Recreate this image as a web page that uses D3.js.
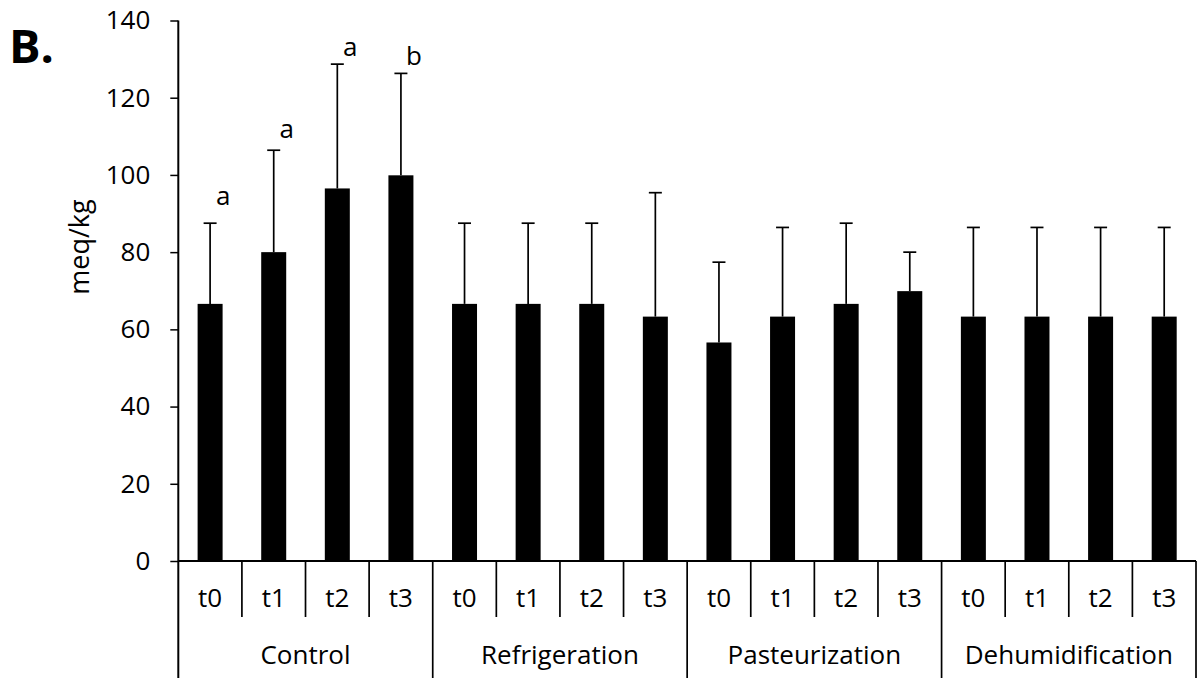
<!DOCTYPE html>
<html><head><meta charset="utf-8">
<script src="https://cdn.jsdelivr.net/npm/d3@7"></script>
<style>body{margin:0;background:#fff}svg{display:block}text{font-family:"Open Sans",sans-serif;fill:#000}</style>
</head><body>
<script>
const groups = ["Control", "Refrigeration", "Pasteurization", "Dehumidification"];
const times = ["t0", "t1", "t2", "t3"];
const controlMean = [66.6, 80.0, 96.5, 99.9];
const refrigerationMean = [66.6, 66.6, 66.6, 63.3];
const pasteurizationMean = [56.6, 63.3, 66.6, 69.9];
const dehumidificationMean = [63.3, 63.3, 63.3, 63.3];
const controlSD = [20.9, 26.4, 32.2, 26.4];
const refrigerationSD = [20.9, 20.9, 20.9, 32.1];
const pasteurizationSD = [20.8, 23.1, 20.9, 10.1];
const dehumidificationSD = [23.1, 23.1, 23.1, 23.1];
const controlLetters = ["a", "a", "a", "b"];
const controlLetterAt = [92.2, 109.6, 130.9, 128.5];
const yTicks = [0, 20, 40, 60, 80, 100, 120, 140];
const yTitle = "meq/kg";
const panelLabel = "B.";

(function () {
const means = [controlMean, refrigerationMean, pasteurizationMean, dehumidificationMean];
const sds = [controlSD, refrigerationSD, pasteurizationSD, dehumidificationSD];
const rows = [];
groups.forEach((g, gi) => times.forEach((t, ti) => rows.push({g, t, v: means[gi][ti], sd: sds[gi][ti], gi, ti})));

const W = 1199, H = 678;
const FS = 26;
const mLeft = 178.3, mRight = 1196, mTop = 20.5, mBottom = 561;
const svg = d3.select("body").append("svg").attr("width", W).attr("height", H);

const y = d3.scaleLinear().domain([0, 140]).range([mBottom, mTop]);
const x0 = d3.scaleBand().domain(groups).range([mLeft, mRight]);
const x1 = d3.scaleBand().domain(times).range([0, x0.bandwidth()]).paddingInner(0.607).paddingOuter(0.3035);
const cx = d => x0(d.g) + x1(d.t) + x1.bandwidth() / 2;

// bars
svg.append("g").selectAll("rect").data(rows).join("rect")
  .attr("x", d => x0(d.g) + x1(d.t)).attr("width", x1.bandwidth())
  .attr("y", d => y(d.v)).attr("height", d => y(0) - y(d.v)).attr("fill", "#000");

// error bars (upper only)
const eb = svg.append("g").attr("stroke", "#000").attr("stroke-width", 1.7);
eb.selectAll("line.v").data(rows).join("line").attr("class", "v")
  .attr("x1", cx).attr("x2", cx).attr("y1", d => y(d.v)).attr("y2", d => y(d.v + d.sd));
eb.selectAll("line.c").data(rows).join("line").attr("class", "c")
  .attr("x1", d => cx(d) - 6.5).attr("x2", d => cx(d) + 6.5).attr("y1", d => y(d.v + d.sd)).attr("y2", d => y(d.v + d.sd));

// significance letters
svg.append("g").selectAll("text").data(controlLetters).join("text")
  .attr("x", (d, i) => x0(groups[0]) + x1(times[i]) + x1.bandwidth() / 2 + 13)
  .attr("y", (d, i) => y(controlLetterAt[i]))
  .attr("text-anchor", "middle").attr("font-size", FS).text(d => d);

// y axis
const yAxis = d3.axisLeft(y).tickValues(yTicks).tickSize(8).tickPadding(20).tickFormat(d3.format("d"));
const ga = svg.append("g").attr("transform", `translate(${mLeft},0)`).call(yAxis);
ga.select(".domain").remove();
ga.selectAll(".tick line").attr("stroke", "#000").attr("stroke-width", 1.5);
ga.selectAll(".tick text").attr("font-size", FS).attr("font-family", "Open Sans").attr("fill", "#000");
svg.append("line").attr("x1", mLeft).attr("x2", mLeft).attr("y1", mTop).attr("y2", H)
  .attr("stroke", "#000").attr("stroke-width", 2);

// x axis baseline
svg.append("line").attr("x1", mLeft).attr("x2", mRight).attr("y1", mBottom).attr("y2", mBottom)
  .attr("stroke", "#000").attr("stroke-width", 2);

// inner separators & time labels
const sep = svg.append("g").attr("stroke", "#000").attr("stroke-width", 1.7);
rows.forEach(d => {
  if (d.ti > 0) sep.append("line").attr("x1", x0(d.g) + x1.step() * d.ti).attr("x2", x0(d.g) + x1.step() * d.ti)
    .attr("y1", mBottom).attr("y2", 617);
});
groups.forEach(g => {
  const xr = x0(g) + x0.bandwidth();
  sep.append("line").attr("x1", xr).attr("x2", xr).attr("y1", mBottom).attr("y2", H);
});
svg.append("g").selectAll("text").data(rows).join("text")
  .attr("x", cx).attr("y", 607).attr("text-anchor", "middle").attr("font-size", FS).text(d => d.t);
svg.append("g").selectAll("text").data(groups).join("text")
  .attr("x", g => x0(g) + x0.bandwidth() / 2).attr("y", 664).attr("text-anchor", "middle").attr("font-size", FS).text(g => g);

// y title
svg.append("text").attr("transform", "translate(89,247) rotate(-90)").attr("text-anchor", "middle")
  .attr("font-size", 27).text(yTitle);
// panel label
svg.append("text").attr("x", 9).attr("y", 63).attr("font-size", 47).attr("font-weight", "bold").text(panelLabel);
})();
</script>
</body></html>
